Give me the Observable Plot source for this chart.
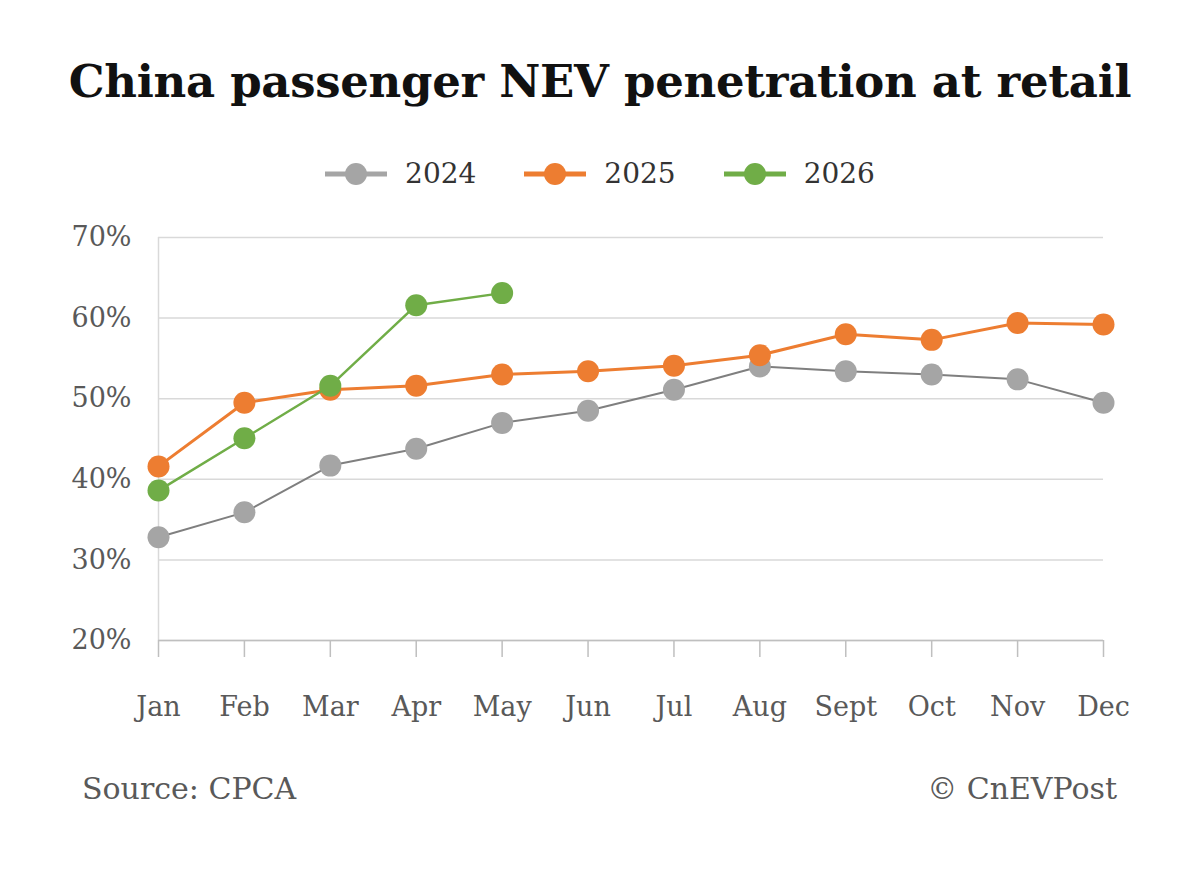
<!DOCTYPE html>
<html>
<head>
<meta charset="utf-8">
<script src="https://cdn.jsdelivr.net/npm/d3@7"></script>
<script src="https://cdn.jsdelivr.net/npm/@observablehq/plot@0.6"></script>
<style>
  html, body { margin: 0; padding: 0; background: #fff; }
  body { width: 1200px; height: 870px; position: relative; font-family: "DejaVu Serif", serif; overflow: hidden; }
  #title { position: absolute; top: 55px; left: 0; width: 1200px; text-align: center; font-weight: bold; font-size: 45px; color: #111; letter-spacing: -0.3px; }
  #legend { position: absolute; top: 157px; left: 0; width: 1200px; display: flex; justify-content: center; gap: 0; font-size: 28px; color: #333; }
  .item { display: flex; align-items: center; margin: 0 24px; }
  .item svg { margin-right: 18px; }
  #chart { position: absolute; top: 220px; left: 0; }
  #source { position: absolute; top: 771px; left: 82px; font-size: 30px; color: #595959; }
  #credit { position: absolute; top: 771px; right: 83px; font-size: 30px; color: #595959; }
</style>
</head>
<body>
<div id="title">China passenger NEV penetration at retail</div>
<div id="legend"></div>
<div id="chart"></div>
<div id="source">Source: CPCA</div>
<div id="credit">© CnEVPost</div>
<script>
const months = ["Jan","Feb","Mar","Apr","May","Jun","Jul","Aug","Sept","Oct","Nov","Dec"];
const v2024 = [32.8, 35.9, 41.7, 43.8, 47.0, 48.5, 51.1, 54.0, 53.4, 53.0, 52.4, 49.5];
const v2025 = [41.6, 49.5, 51.1, 51.6, 53.0, 53.4, 54.1, 55.4, 58.0, 57.3, 59.4, 59.2];
const v2026 = [38.6, 45.1, 51.6, 61.6, 63.1];
const yTicks = [20, 30, 40, 50, 60, 70];
const seriesNames = ["2024", "2025", "2026"];
const dotColors = ["#a5a5a5", "#ed7d31", "#70ad47"];
const lineColors = ["#7f7f7f", "#ed7d31", "#70ad47"];
const lineWidths = [2, 3, 2.5];

const allValues = [v2024, v2025, v2026];
const rows = [];
allValues.forEach((vals, si) => vals.forEach((v, i) => rows.push({series: seriesNames[si], month: months[i], value: v})));

const marks = [
  Plot.gridY(yTicks, {stroke: "#d9d9d9", strokeOpacity: 1, strokeWidth: 1.5}),
  Plot.ruleX([months[0]], {y1: 20, y2: 70, stroke: "#d9d9d9", strokeWidth: 1.5}),
  Plot.axisY(yTicks, {tickSize: 0, tickPadding: 27, tickFormat: d => d + "%", fill: "#595959"}),
  Plot.axisX({tickSize: 17, tickPadding: 39, stroke: "#bfbfbf", strokeWidth: 1.5, fill: "#595959"}),
  Plot.ruleY([20], {stroke: "#bfbfbf", strokeWidth: 1.5})
];
seriesNames.forEach((s, si) => {
  const d = rows.filter(r => r.series === s);
  marks.push(Plot.line(d, {x: "month", y: "value", stroke: lineColors[si], strokeWidth: lineWidths[si]}));
  marks.push(Plot.dot(d, {x: "month", y: "value", r: 11, fill: dotColors[si], stroke: "none"}));
});

const chart = Plot.plot({
  width: 1200,
  height: 510,
  marginTop: 17,
  marginBottom: 90,
  marginLeft: 158,
  marginRight: 97,
  style: {fontFamily: "DejaVu Serif, serif", fontSize: "27px", color: "#595959", background: "#fff", overflow: "visible"},
  x: {type: "point", domain: months, padding: 0, round: false, label: null},
  y: {domain: [20, 70], label: null},
  marks
});
document.getElementById("chart").appendChild(chart);

const legend = document.getElementById("legend");
seriesNames.forEach((s, si) => {
  const item = document.createElement("div");
  item.className = "item";
  item.innerHTML = `<svg width="62" height="24"><line x1="0" x2="62" y1="12" y2="12" stroke="${dotColors[si]}" stroke-width="5"/><circle cx="31" cy="12" r="11" fill="${dotColors[si]}"/></svg><span>${s}</span>`;
  legend.appendChild(item);
});
</script>
</body>
</html>
